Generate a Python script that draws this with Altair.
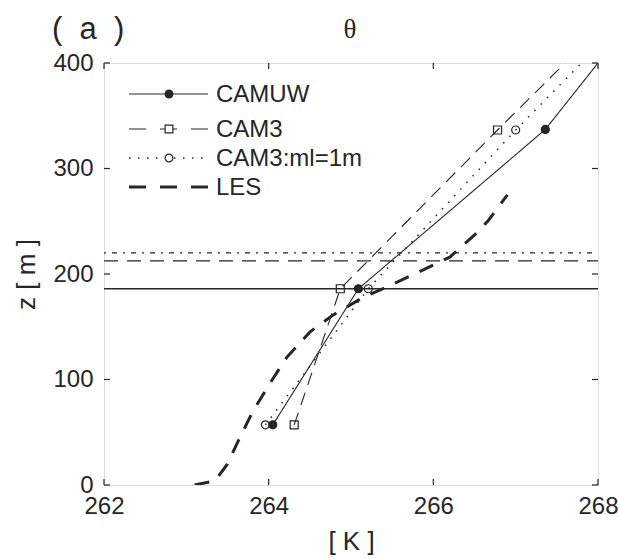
import altair as alt
import pandas as pd

# ---- data ----
series_names = ["CAMUW", "CAM3", "CAM3:ml=1m", "LES"]

camuw_z = [57, 186, 337, 400]
camuw_t = [264.05, 265.09, 267.36, 268.0]

cam3_z = [57, 186, 336.5, 400]
cam3_t = [264.31, 264.87, 266.78, 267.6]

camml_z = [57, 186, 336.5, 400]
camml_t = [263.96, 265.21, 267.0, 267.8]

les_z = [0, 4, 20, 45, 70, 97, 121, 145, 161, 178, 188, 201, 216, 239, 251, 275]
les_t = [263.1, 263.35, 263.5, 263.65, 263.81, 264.02, 264.22, 264.5, 264.78,
         265.15, 265.44, 265.8, 266.2, 266.53, 266.67, 266.9]

n_markers = 3  # model levels shown with markers (the 4th point is where the line leaves the frame)

pbl_camuw = 186
pbl_cam3 = 212.5
pbl_camml = 220

x_ticks = [262, 264, 266, 268]
y_ticks = [0, 100, 200, 300, 400]

# ---- styles ----
W, H = 494, 422
INK = "#262626"
FONT = "Liberation Sans"

styles = {
    "CAMUW": dict(dash=[1, 0], width=1.1, shape="circle", fill=INK),
    "CAM3": dict(dash=[13, 8], width=1.1, shape="square", fill="transparent"),
    "CAM3:ml=1m": dict(dash=[1.5, 7.5], width=1.5, shape="circle", fill="transparent"),
    "LES": dict(dash=[15, 12], width=3, shape=None, fill=None),
}
series_data = {
    "CAMUW": (camuw_z, camuw_t),
    "CAM3": (cam3_z, cam3_t),
    "CAM3:ml=1m": (camml_z, camml_t),
    "LES": (les_z, les_t),
}

xscale = alt.Scale(domain=[262, 268], nice=False, zero=False)
yscale = alt.Scale(domain=[0, 400], nice=False, zero=False)

xaxis = alt.Axis(values=x_ticks, format="d", ticks=False, domain=False, grid=False,
                 labelFontSize=24, labelFont=FONT, labelColor=INK, labelPadding=9,
                 title="[ K ]", titleFontSize=26, titleFont=FONT, titleColor=INK,
                 titleFontWeight="normal", titlePadding=10, labelFlush=False)
yaxis = alt.Axis(values=y_ticks, format="d", ticks=False, domain=False, grid=False,
                 labelFontSize=24, labelFont=FONT, labelColor=INK, labelPadding=11,
                 title="z [ m ]", titleFontSize=26, titleFont=FONT, titleColor=INK,
                 titleFontWeight="normal", titlePadding=13, labelFlush=False)

layers = []

# boundary-layer top lines
def hrule(val, dash):
    df = pd.DataFrame({"z": [val]})
    return alt.Chart(df).mark_rule(stroke=INK, strokeWidth=1.3, strokeDash=dash).encode(
        y=alt.Y("z:Q", scale=yscale, axis=yaxis), x=alt.value(0), x2=alt.value(W))

layers += [hrule(pbl_camuw, [1, 0]), hrule(pbl_cam3, [14, 9]), hrule(pbl_camml, [2, 6, 5, 6])]

# profiles
for name in series_names:
    zs, ts = series_data[name]
    st = styles[name]
    df = pd.DataFrame({"z": zs, "t": ts})
    layers.append(
        alt.Chart(df).mark_line(stroke=INK, strokeWidth=st["width"], strokeDash=st["dash"], clip=True)
        .encode(x=alt.X("t:Q", scale=xscale, axis=xaxis),
                y=alt.Y("z:Q", scale=yscale, axis=yaxis),
                order=alt.Order("z:Q"))
    )
    if st["shape"]:
        mdf = df.iloc[:n_markers]
        layers.append(
            alt.Chart(mdf).mark_point(shape=st["shape"], fill=st["fill"], stroke=INK,
                                      strokeWidth=1.2, opacity=1, size=64)
            .encode(x=alt.X("t:Q", scale=xscale), y=alt.Y("z:Q", scale=yscale))
        )

# legend (drawn by hand, top-left inside the frame)
leg_rows = [31, 66, 95, 124]
leg_x0, leg_x1, leg_mid, leg_text = 25, 104, 65, 112
for name, yy in zip(series_names, leg_rows):
    st = styles[name]
    ldf = pd.DataFrame({"label": [name]})
    leg_dash = [17, 14] if name in ("CAM3", "LES") else st["dash"]
    layers.append(
        alt.Chart(ldf).mark_rule(stroke=INK, strokeWidth=st["width"], strokeDash=leg_dash)
        .encode(x=alt.value(leg_x0), x2=alt.value(leg_x1), y=alt.value(yy))
    )
    if st["shape"]:
        layers.append(
            alt.Chart(ldf).mark_point(shape=st["shape"], fill="white" if st["fill"] == "transparent" else st["fill"],
                                      stroke=INK, strokeWidth=1.2, opacity=1, size=60)
            .encode(x=alt.value(leg_mid), y=alt.value(yy))
        )
    layers.append(
        alt.Chart(ldf).mark_text(font=FONT, fontSize=24, color=INK, align="left", baseline="middle")
        .encode(text="label:N", x=alt.value(leg_text), y=alt.value(yy + 1))
    )

# inward ticks on all four sides
xt = pd.DataFrame({"v": x_ticks})
yt = pd.DataFrame({"v": y_ticks})
tick_len = 6
layers += [
    alt.Chart(xt).mark_rule(stroke=INK, strokeWidth=1.2).encode(
        x=alt.X("v:Q", scale=xscale), y=alt.value(H), y2=alt.value(H - tick_len)),
    alt.Chart(xt).mark_rule(stroke=INK, strokeWidth=1.2).encode(
        x=alt.X("v:Q", scale=xscale), y=alt.value(0), y2=alt.value(tick_len)),
    alt.Chart(yt).mark_rule(stroke=INK, strokeWidth=1.2).encode(
        y=alt.Y("v:Q", scale=yscale), x=alt.value(0), x2=alt.value(tick_len)),
    alt.Chart(yt).mark_rule(stroke=INK, strokeWidth=1.2).encode(
        y=alt.Y("v:Q", scale=yscale), x=alt.value(W), x2=alt.value(W - tick_len)),
]

# panel label and title
NB = "\u00a0"
layers.append(
    alt.Chart(pd.DataFrame({"label": ["(" + NB * 2 + "a" + NB * 2 + ")"]})).mark_text(
        font=FONT, fontSize=31, color=INK, align="left", baseline="middle").encode(
        text="label:N", x=alt.value(-52), y=alt.value(-33))
)
layers.append(
    alt.Chart(pd.DataFrame({"label": ["θ"]})).mark_text(
        font="Liberation Serif", fontSize=27, color=INK, align="center", baseline="middle").encode(
        text="label:N", x=alt.value(W / 2 - 1), y=alt.value(-33))
)

chart = alt.layer(*layers).properties(
    width=W, height=H,
    padding={"left": 104, "top": 63, "right": 21, "bottom": 74},
    autosize=alt.AutoSizeParams(type="none"),
).configure_view(
    stroke=INK, strokeWidth=1.5
).configure(background="white")

chart.save("out.html", embed_options={"renderer": "svg", "actions": False})
